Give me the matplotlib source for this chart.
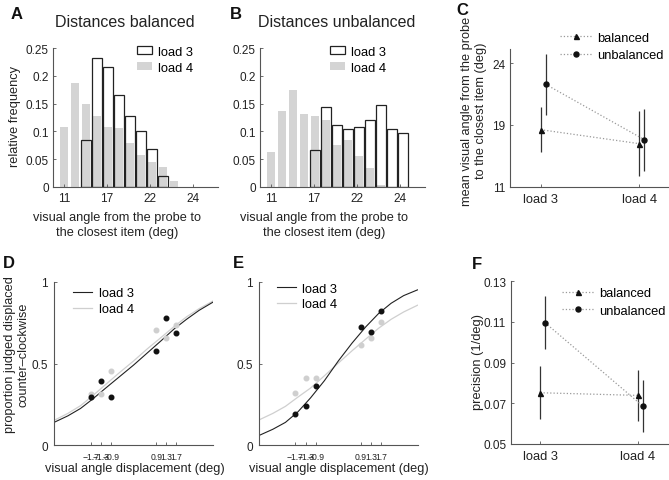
import numpy as np
import matplotlib
matplotlib.use('Agg')
import matplotlib.pyplot as plt
from matplotlib.patches import Patch
from matplotlib.ticker import NullLocator

plt.rcParams['font.family'] = ['Liberation Sans', 'DejaVu Sans']
plt.rcParams['axes.unicode_minus'] = True

# ---------------- data ----------------
# histogram bins (bin index) and relative frequencies
bins = [1, 2, 3, 4, 5, 6, 7, 8, 9, 10, 11, 12, 13]
bal_load3 = [0, 0, 0.084, 0.232, 0.216, 0.166, 0.127, 0.100, 0.069, 0.019, 0, 0, 0]
bal_load4 = [0.108, 0.187, 0.150, 0.127, 0.108, 0.106, 0.079, 0.058, 0.045, 0.035, 0.011, 0, 0]
unb_load3 = [0, 0, 0, 0, 0.066, 0.144, 0.112, 0.104, 0.107, 0.120, 0.148, 0.104, 0.097]
unb_load4 = [0.063, 0.136, 0.175, 0.131, 0.128, 0.120, 0.076, 0.084, 0.055, 0.034, 0.003, 0, 0]
hist_tick_pos = [1, 4.9, 8.85, 12.75]
hist_tick_labels = ['11', '17', '22', '24']
freq_ticks = [0, 0.05, 0.1, 0.15, 0.2, 0.25]
freq_tick_labels = ['0', '0.05', '0.1', '0.15', '0.2', '0.25']

# panel C: mean visual angle (deg) with error bar bounds
loads = ['load 3', 'load 4']
load_pos = [1, 2]
angle_bal = [18.38, 16.56]
angle_bal_lo = [15.52, 12.40]
angle_bal_hi = [20.43, 20.13]
angle_unb = [22.30, 17.08]
angle_unb_lo = [19.80, 13.05]
angle_unb_hi = [24.78, 20.29]
angle_ticks = [11, 19, 24]

# panel F: precision (1/deg)
prec_bal = [0.0752, 0.0739]
prec_bal_err = [0.0131, 0.0125]
prec_unb = [0.1096, 0.0687]
prec_unb_err = [0.0130, 0.0127]
prec_ticks = [0.05, 0.07, 0.09, 0.11, 0.13]

# panels D/E: psychometric data and fitted curves
disp = [-1.7, -1.3, -0.9, 0.9, 1.3, 1.7]
D_load3_pts = [0.295, 0.391, 0.295, 0.576, 0.780, 0.688]
D_load4_pts = [0.315, 0.311, 0.454, 0.703, 0.658, 0.737]
E_load3_pts = [0.193, 0.238, 0.364, 0.723, 0.693, 0.819]
E_load4_pts = [0.318, 0.411, 0.411, 0.613, 0.658, 0.756]
curve_x = [-3.15, -2.6, -2.1, -1.6, -1.1, -0.55, 0, 0.55, 1.1, 1.6, 2.1, 2.6, 3.15]
D_load3_fit = [0.140, 0.180, 0.225, 0.285, 0.350, 0.420, 0.490, 0.565, 0.640, 0.710, 0.770, 0.825, 0.875]
D_load4_fit = [0.152, 0.195, 0.242, 0.305, 0.372, 0.445, 0.515, 0.590, 0.660, 0.725, 0.785, 0.835, 0.882]
E_load3_fit = [0.060, 0.098, 0.140, 0.205, 0.290, 0.395, 0.515, 0.625, 0.725, 0.805, 0.868, 0.915, 0.950]
E_load4_fit = [0.155, 0.195, 0.238, 0.295, 0.350, 0.425, 0.502, 0.578, 0.650, 0.715, 0.770, 0.815, 0.856]

# ---------------- styling helpers ----------------
W, H = 669, 481
GRAY = '#d4d4d4'
SPINE = '#555555'
TXT = '#222222'

fig = plt.figure(figsize=(W / 100, H / 100), dpi=100)


def axes_px(x0, x1, ytop, ybot):
    return fig.add_axes([x0 / W, 1 - ybot / H, (x1 - x0) / W, (ybot - ytop) / H])


def style(ax, labelsize=8.5):
    for s in ['top', 'right']:
        ax.spines[s].set_visible(False)
    for s in ['left', 'bottom']:
        ax.spines[s].set_color(SPINE)
        ax.spines[s].set_linewidth(0.8)
    ax.tick_params(direction='in', length=2.5, width=0.6, color=SPINE,
                   labelsize=labelsize, labelcolor=TXT, pad=3)


def ftext(x, y, s, **kw):
    kw.setdefault('color', TXT)
    fig.text(x / W, 1 - y / H, s, **kw)


# ---------------- panels A and B ----------------
for (x0, x1), l3, l4, title, tx, legx in [((53, 218), bal_load3, bal_load4, 'Distances balanced', 125, 0.507),
                                          ((260, 425), unb_load3, unb_load4, 'Distances unbalanced', 337, 0.424)]:
    ax = axes_px(x0, x1, 49.3, 187.7)
    pos = np.array(bins, dtype=float)
    v3 = np.array(l3)
    v4 = np.array(l4)
    ax.bar(pos[v4 > 0], v4[v4 > 0], width=0.68, color=GRAY, edgecolor='none', zorder=1)
    ax.bar(pos[v3 > 0], v3[v3 > 0], width=0.82, facecolor='none', edgecolor=TXT,
           linewidth=0.9, zorder=2)
    ax.set_xlim(0, 15)
    ax.set_ylim(0, 0.25)
    ax.set_yticks(freq_ticks)
    ax.set_yticklabels(freq_tick_labels)
    ax.set_xticks(hist_tick_pos)
    ax.set_xticklabels(hist_tick_labels)
    style(ax)
    ax.tick_params(axis='x', pad=4)
    handles = [Patch(facecolor='white', edgecolor=TXT, linewidth=0.9),
               Patch(facecolor=GRAY, edgecolor='none')]
    ax.legend(handles, ['load 3', 'load 4'], loc='upper left', bbox_to_anchor=(legx, 1.02),
              frameon=False, fontsize=9.3, handlelength=1.2, handleheight=0.55,
              handletextpad=0.45, labelspacing=0.33, borderpad=0, borderaxespad=0)
    ftext(tx, 22.7, title, ha='center', va='center', fontsize=11.5)
    ftext((x0 + x1) / 2 - 18, 225.5, 'visual angle from the probe to\nthe closest item (deg)',
          ha='center', va='center', fontsize=9.2, linespacing=1.3)

ftext(15, 116.7, 'relative frequency', rotation=90, ha='center', va='center', fontsize=9.2)

# ---------------- panel C ----------------
def fwd(v):
    return np.interp(v, [0, 11, 19, 24, 40], [-11 / 8, 0, 1, 2, 2 + 16 / 5])


def inv(p):
    return np.interp(p, [-11 / 8, 0, 1, 2, 2 + 16 / 5], [0, 11, 19, 24, 40])


axC = axes_px(510, 668, 50, 187.5)
axC.set_yscale('function', functions=(fwd, inv))
off = 0.05
xb = np.array(load_pos, dtype=float)
xu = xb + off
axC.errorbar(xb, angle_bal, yerr=[np.array(angle_bal) - np.array(angle_bal_lo),
                                  np.array(angle_bal_hi) - np.array(angle_bal)],
             fmt='none', ecolor='#333333', elinewidth=0.9, capsize=0, zorder=2)
axC.errorbar(xu, angle_unb, yerr=[np.array(angle_unb) - np.array(angle_unb_lo),
                                  np.array(angle_unb_hi) - np.array(angle_unb)],
             fmt='none', ecolor='#333333', elinewidth=0.9, capsize=0, zorder=2)
axC.plot(xb, angle_bal, linestyle=':', color='#999999', linewidth=0.9, marker='^',
         markersize=3.6, markerfacecolor='#111111', markeredgecolor='#111111', label='balanced', zorder=3)
axC.plot(xu, angle_unb, linestyle=':', color='#999999', linewidth=0.9, marker='o',
         markersize=3.6, markerfacecolor='#111111', markeredgecolor='#111111', label='unbalanced', zorder=3)
axC.set_xlim(0.69, 2.29)
axC.set_ylim(11, 25.16)
axC.set_yticks(angle_ticks)
axC.set_yticklabels([str(t) for t in angle_ticks])
axC.yaxis.set_minor_locator(NullLocator())
axC.set_xticks(load_pos)
axC.set_xticklabels(loads)
style(axC)
axC.tick_params(axis='x', labelsize=9.3, pad=4.5)
axC.tick_params(axis='y', pad=3.5)
axC.legend(loc='upper left', bbox_to_anchor=(0.316, 1.125), frameon=False, fontsize=9.3,
           handlelength=2.5, handletextpad=0.38, labelspacing=0.42, numpoints=1,
           borderpad=0, borderaxespad=0)
ftext(474, 111, 'mean visual angle from the probe\nto the closest item (deg)', rotation=90,
      ha='center', va='center', fontsize=9.2, linespacing=1.3)

# ---------------- panels D and E ----------------
for (x0, x1), p3, p4, f3, f4, legx, legy in [((54, 213), D_load3_pts, D_load4_pts, D_load3_fit, D_load4_fit, 0.121, 0.965),
                                             ((259, 417.5), E_load3_pts, E_load4_pts, E_load3_fit, E_load4_fit, 0.112, 0.995)]:
    ax = axes_px(x0, x1, 282.7, 446.3)
    ax.plot(curve_x, f4, color='#cfcfcf', linewidth=0.9, label='load 4', zorder=1)
    ax.plot(curve_x, f3, color='#222222', linewidth=0.8, label='load 3', zorder=2)
    ax.plot(disp, p4, linestyle='none', marker='o', markersize=3.3, color='#cfcfcf', zorder=3)
    ax.plot(disp, p3, linestyle='none', marker='o', markersize=3.3, color='#111111', zorder=4)
    ax.set_xlim(-3.15, 3.15)
    ax.set_ylim(0, 1)
    ax.set_yticks([0, 0.5, 1])
    ax.set_yticklabels(['0', '0.5', '1'])
    ax.set_xticks(disp)
    ax.set_xticklabels([f'{d:g}'.replace('-', '\u2212') for d in disp])
    style(ax)
    ax.tick_params(axis='x', labelsize=6.2, pad=5)
    ax.tick_params(axis='y', labelsize=8.5, pad=4.5)
    h, l = ax.get_legend_handles_labels()
    ax.legend([h[1], h[0]], [l[1], l[0]], loc='upper left', bbox_to_anchor=(legx, legy),
              frameon=False, fontsize=9.3, handlelength=1.47, handletextpad=0.5,
              labelspacing=0.28, borderpad=0, borderaxespad=0)
    ftext((x0 + x1) / 2 + 1, 469.5, 'visual angle displacement (deg)', ha='center', va='center', fontsize=9.2)

ftext(17, 355, 'proportion judged displaced\ncounter\u2013clockwise', rotation=90,
      ha='center', va='center', fontsize=9.2, linespacing=1.15)

# ---------------- panel F ----------------
axF = axes_px(511, 668, 282.3, 445)
axF.errorbar(xb, prec_bal, yerr=prec_bal_err, fmt='none', ecolor='#333333',
             elinewidth=0.9, capsize=0, zorder=2)
axF.errorbar(xu, prec_unb, yerr=prec_unb_err, fmt='none', ecolor='#333333',
             elinewidth=0.9, capsize=0, zorder=2)
axF.plot(xb, prec_bal, linestyle=':', color='#999999', linewidth=0.9, marker='^',
         markersize=3.6, markerfacecolor='#111111', markeredgecolor='#111111', label='balanced', zorder=3)
axF.plot(xu, prec_unb, linestyle=':', color='#999999', linewidth=0.9, marker='o',
         markersize=3.6, markerfacecolor='#111111', markeredgecolor='#111111', label='unbalanced', zorder=3)
axF.set_xlim(0.70, 2.31)
axF.set_ylim(0.05, 0.13)
axF.set_yticks(prec_ticks)
axF.set_yticklabels([f'{t:.2f}' for t in prec_ticks])
axF.set_xticks(load_pos)
axF.set_xticklabels(loads)
style(axF)
axF.tick_params(axis='x', labelsize=9.3, pad=4.5)
axF.tick_params(axis='y', pad=3.5)
axF.legend(loc='upper left', bbox_to_anchor=(0.323, 0.965), frameon=False, fontsize=9.3,
           handlelength=2.5, handletextpad=0.38, labelspacing=0.42, numpoints=1,
           borderpad=0, borderaxespad=0)
ftext(478.3, 361.7, 'precision (1/deg)', rotation=90, ha='center', va='center', fontsize=9.3)

# ---------------- panel letters ----------------
for letter, x, y in [('A', 10.5, 7), ('B', 230, 7), ('C', 456.5, 3),
                     ('D', 3, 256), ('E', 233, 256), ('F', 471.5, 257.5)]:
    ftext(x, y, letter, ha='left', va='top', fontsize=12, fontweight='bold', color='#111111')

fig.savefig('out.png', dpi=100)
